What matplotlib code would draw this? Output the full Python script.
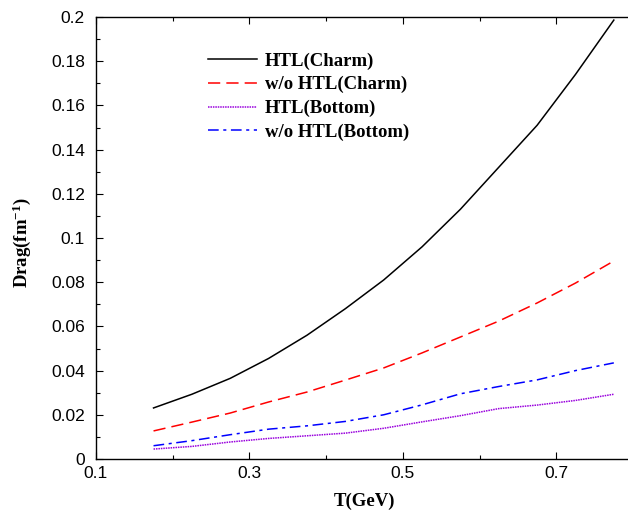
import matplotlib
matplotlib.use("Agg")
import matplotlib.pyplot as plt
from matplotlib.ticker import MultipleLocator, FixedLocator

plt.rcParams["mathtext.fontset"] = "custom"
plt.rcParams["mathtext.rm"] = "Liberation Serif:bold"
plt.rcParams["mathtext.bf"] = "Liberation Serif:bold"
plt.rcParams["mathtext.default"] = "bf"

T = [0.175, 0.225, 0.275, 0.325, 0.375, 0.425, 0.475, 0.525, 0.575, 0.625, 0.675, 0.725, 0.775]
htl_charm = [0.0231, 0.0293, 0.0365, 0.0455, 0.056, 0.068, 0.081, 0.096, 0.113, 0.132, 0.151, 0.174, 0.1986]
wo_charm = [0.0127, 0.0167, 0.0208, 0.0258, 0.0303, 0.0357, 0.0412, 0.0480, 0.0552, 0.0624, 0.0706, 0.0796, 0.0896]
htl_bottom = [0.0045, 0.0057, 0.0077, 0.0093, 0.0105, 0.0117, 0.0139, 0.0168, 0.0196, 0.0228, 0.0244, 0.0265, 0.0293]
wo_bottom = [0.006, 0.0083, 0.011, 0.0135, 0.015, 0.017, 0.0200, 0.0245, 0.0295, 0.0328, 0.0358, 0.0400, 0.0435]
labels = ["HTL(Charm)", "w/o HTL(Charm)", "HTL(Bottom)", "w/o HTL(Bottom)"]
xticks = [0.1, 0.3, 0.5, 0.7]
xminor = [0.2, 0.4, 0.6]
yticks = [0, 0.02, 0.04, 0.06, 0.08, 0.1, 0.12, 0.14, 0.16, 0.18, 0.2]
yticklabels = ["0", "0.02", "0.04", "0.06", "0.08", "0.1", "0.12", "0.14", "0.16", "0.18", "0.2"]

fig = plt.figure(figsize=(6.28, 5.12), dpi=100)
ax = fig.add_axes([96/628, 53/512, 537/628, 442/512])

ax.plot(T, htl_charm, color="black", lw=1.1, label=labels[0])
ax.plot(T, wo_charm, color="#ff0000", lw=1.1, dashes=(8, 4), label=labels[1])
ax.plot(T, htl_bottom, color="#9900dd", lw=1.1, dashes=(1, 0.6), label=labels[2])
ax.plot(T, wo_bottom, color="#0000ff", lw=1.1, dashes=(7, 3, 2, 3), label=labels[3])

ax.set_xlim(0.1, 0.8)
ax.set_ylim(0, 0.2)
ax.xaxis.set_major_locator(FixedLocator(xticks))
ax.xaxis.set_minor_locator(FixedLocator(xminor))
ax.set_xticklabels(["0.1", "0.3", "0.5", "0.7"])
ax.set_yticks(yticks)
ax.set_yticklabels(yticklabels)
ax.yaxis.set_minor_locator(MultipleLocator(0.01))
ax.tick_params(which="both", direction="in", top=True, right=False, labelsize=12.5, width=0.8)
ax.tick_params(axis="y", pad=8)
ax.tick_params(axis="x", pad=5)
ax.tick_params(which="major", length=5)
ax.tick_params(which="minor", length=3)
for lab in ax.get_xticklabels() + ax.get_yticklabels():
    lab.set_family("Liberation Sans")
for s in ax.spines.values():
    s.set_linewidth(1.0)

ax.set_xlabel("T(GeV)", family="Liberation Serif", fontweight="bold", fontsize=13.5)
ax.xaxis.set_label_coords((365 - 96) / 537, -(493 - 459) / 442)
ax.set_ylabel(r"Drag(fm$^{-1}$)", family="Liberation Serif", fontweight="bold", fontsize=13.5)
ax.yaxis.set_label_coords(-(96 - 33) / 537, (459 - 243) / 442)

leg = ax.legend(loc="upper left", bbox_to_anchor=(0.177, 0.958), frameon=False,
                prop={"family": "Liberation Serif", "weight": "bold", "size": 13.5},
                handlelength=2.6, handletextpad=0.45, labelspacing=0.34)

fig.savefig("out.png", dpi=100)
